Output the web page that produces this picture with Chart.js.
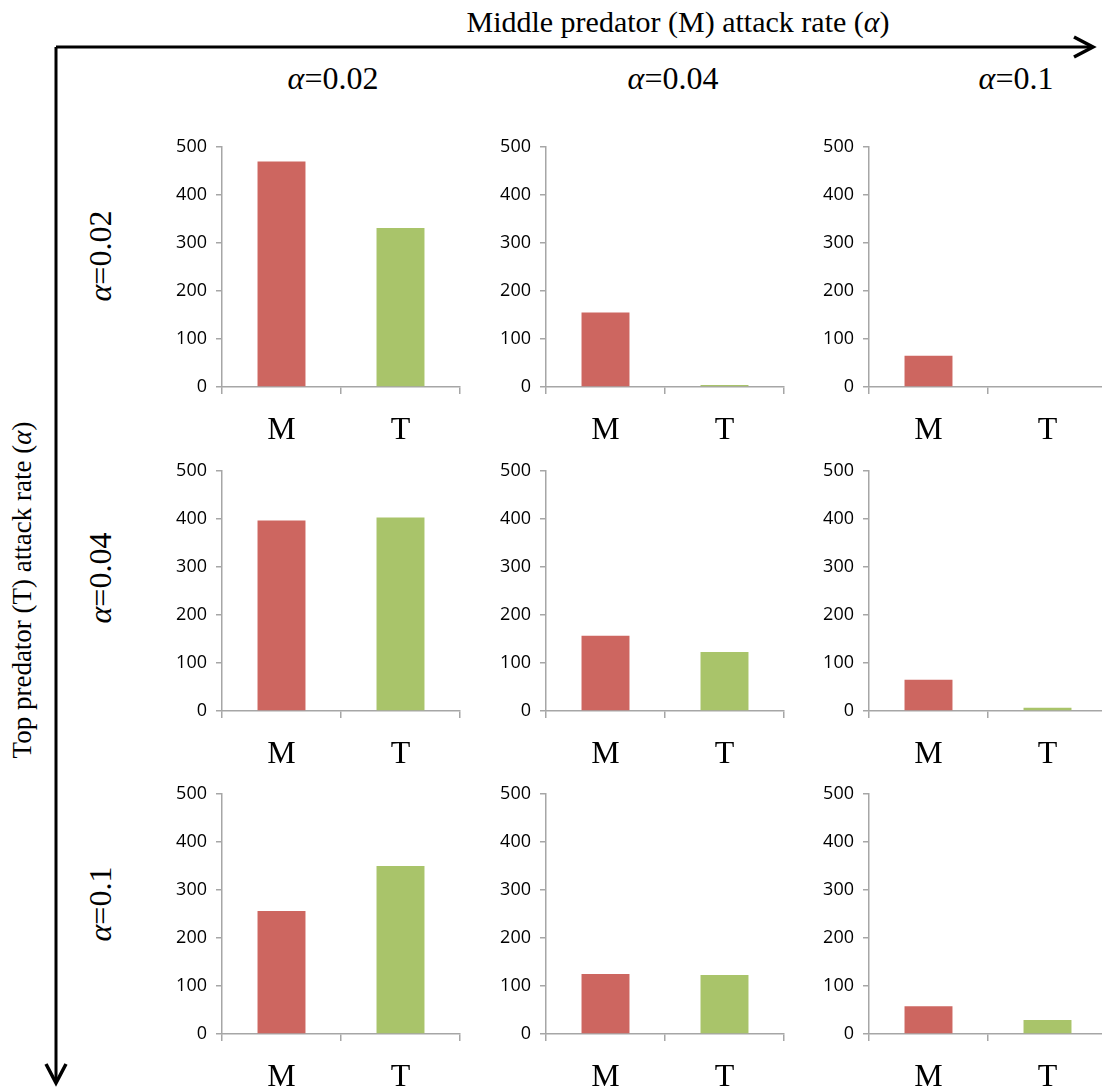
<!DOCTYPE html>
<html>
<head>
<meta charset="utf-8">
<script src="https://cdn.jsdelivr.net/npm/chart.js@4"></script>
<style>
  html, body { margin: 0; padding: 0; background: #fff; overflow: hidden; }
  #page { position: relative; width: 1102px; height: 1090px; }
  .panel { position: absolute; }
  .lbl {
    position: absolute;
    font-family: "Liberation Serif", "Times New Roman", serif;
    color: #000;
    white-space: nowrap;
    transform: translate(-50%, -50%);
  }
  .rot { transform: translate(-50%, -50%) rotate(-90deg); }
  svg { position: absolute; left: 0; top: 0; }
</style>
</head>
<body>
<div id="page">
  <svg width="1102" height="1090">
    <g stroke="#000" stroke-width="3" fill="none">
      <path d="M56 47 H1092" />
      <path d="M1074 37 L1093 47 L1074 57" stroke-width="3.5" />
      <path d="M56 47 V1082" />
      <path d="M46 1064 L56 1083 L66 1064" stroke-width="3.5" />
    </g>
  </svg>
  <div class="lbl" style="left:678px; top:22px; font-size:30px;">Middle predator (M) attack rate (<i>α</i>)</div>
  <div class="lbl rot" style="left:22px; top:590px; font-size:27px;">Top predator (T) attack rate (<i>α</i>)</div>
</div>

<script>
// categories on each small chart
const categories = ['M', 'T'];
// attack rates: columns = middle predator, rows = top predator
const midRates = ['0.02', '0.04', '0.1'];
const topRates = ['0.02', '0.04', '0.1'];
// population values, [row][col]
const mValues = [
  [470, 155, 65],
  [397, 157, 65],
  [256, 125, 58]
];
const tValues = [
  [331, 4, 0],
  [403, 123, 7],
  [350, 123, 29]
];
const yTicks = [0, 100, 200, 300, 400, 500];

const barColors = ['#cd6660', '#a9c46a'];
const axisGray = '#a6a6a6';

// layout of the grid (px)
const colAxisX = [222, 546, 869];
const rowTopY = [147, 471, 794];
const colLabelX = [333, 673, 1016];
const rowLabelY = [256, 578, 904];

const page = document.getElementById('page');

midRates.forEach((r, i) => {
  const d = document.createElement('div');
  d.className = 'lbl';
  d.style.left = colLabelX[i] + 'px';
  d.style.top = '78px';
  d.style.fontSize = '32px';
  d.innerHTML = '<i>α</i>=' + r;
  page.appendChild(d);
});
topRates.forEach((r, i) => {
  const d = document.createElement('div');
  d.className = 'lbl rot';
  d.style.left = '100px';
  d.style.top = rowLabelY[i] + 'px';
  d.style.fontSize = '32px';
  d.innerHTML = '<i>α</i>=' + r;
  page.appendChild(d);
});

for (let row = 0; row < 3; row++) {
  for (let col = 0; col < 3; col++) {
    const canvas = document.createElement('canvas');
    canvas.className = 'panel';
    canvas.width = 300;
    canvas.height = 310;
    canvas.style.left = (colAxisX[col] - 60) + 'px';
    canvas.style.top = (rowTopY[row] - 10) + 'px';
    page.appendChild(canvas);

    new Chart(canvas.getContext('2d'), {
      type: 'bar',
      data: {
        labels: categories,
        datasets: [{
          data: [mValues[row][col], tValues[row][col]],
          backgroundColor: barColors,
          borderWidth: 0,
          barPercentage: 0.403,
          categoryPercentage: 1
        }]
      },
      options: {
        responsive: false,
        animation: false,
        layout: { padding: { top: 10, right: 2, left: 0, bottom: 0 } },
        plugins: { legend: { display: false }, tooltip: { enabled: false } },
        scales: {
          x: {
            grid: { offset: true, drawOnChartArea: false, tickLength: 7, color: axisGray, lineWidth: 1.5 },
            border: { color: axisGray, width: 1.5 },
            ticks: {
              color: '#000',
              padding: 17,
              font: { family: 'Liberation Serif', size: 32 }
            },
            afterFit(scale) { scale.height = 60; }
          },
          y: {
            min: yTicks[0],
            max: yTicks[yTicks.length - 1],
            afterBuildTicks(scale) { scale.ticks = yTicks.map(v => ({ value: v })); },
            grid: { drawOnChartArea: false, tickLength: 6, color: axisGray, lineWidth: 1.5 },
            border: { color: axisGray, width: 1.5 },
            ticks: {
              color: '#000',
              padding: 9,
              font: { family: 'Open Sans', size: 18 }
            },
            afterFit(scale) {
              scale.width = 60;
              scale.paddingTop = 0;
              scale.paddingBottom = 0;
            }
          }
        }
      }
    });
  }
}
</script>
</body>
</html>
